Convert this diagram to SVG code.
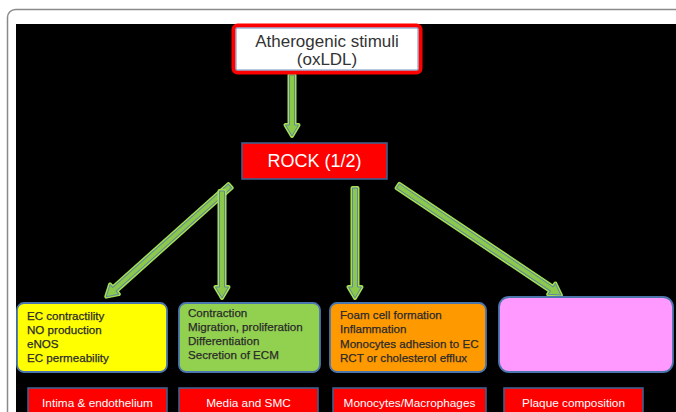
<svg xmlns="http://www.w3.org/2000/svg" xmlns:xlink="http://www.w3.org/1999/xlink" width="676" height="412" viewBox="0 0 676 412">
<style>
.glow{fill:none;stroke:#a6e04e;stroke-width:4;stroke-linejoin:round}
.arw{fill:#8cc84b;stroke:#5f87a0;stroke-width:1;stroke-linejoin:round}
.box{stroke:#4a76ad;stroke-width:1.8}
.txt{font-family:"Liberation Sans",Arial,sans-serif;font-size:11.6px;fill:#2a2a2a;stroke:#2a2a2a;stroke-width:0.25}
.lab{font-family:"Liberation Sans",Arial,sans-serif;font-size:11.8px;fill:#ffffff;text-anchor:middle}
.red{fill:#ff0000;stroke:#3f5f8c;stroke-width:1.6}
</style>
<defs>
<path id="a61" d="M0,-2.5 L50,-2.5 L50,-6.5 L61,0 L50,6.5 L50,2.5 L0,2.5 Z"/>
<path id="a107" d="M0,-2.5 L96,-2.5 L96,-6.5 L107,0 L96,6.5 L96,2.5 L0,2.5 Z"/>
<path id="a110" d="M0,-2.5 L99,-2.5 L99,-6.5 L110,0 L99,6.5 L99,2.5 L0,2.5 Z"/>
<path id="a166" d="M0,-2.5 L155,-2.5 L155,-6.5 L166,0 L155,6.5 L155,2.5 L0,2.5 Z"/>
<path id="a196" d="M0,-2.5 L185,-2.5 L185,-6.5 L196,0 L185,6.5 L185,2.5 L0,2.5 Z"/>
</defs>
<rect x="7.5" y="9.5" width="700" height="420" rx="8" fill="#ffffff" stroke="#8a8a8a" stroke-width="1.5"/>
<rect x="16" y="24" width="660" height="388" fill="#000000"/>
<g id="connectors">
<use xlink:href="#a61" class="glow" transform="translate(292,75) rotate(90)"/>
<use xlink:href="#a61" class="arw" transform="translate(292,75) rotate(90)"/>
<use xlink:href="#a166" class="glow" transform="translate(230,186) rotate(138.2)"/>
<use xlink:href="#a166" class="arw" transform="translate(230,186) rotate(138.2)"/>
<use xlink:href="#a107" class="glow" transform="translate(222,191) rotate(90)"/>
<use xlink:href="#a107" class="arw" transform="translate(222,191) rotate(90)"/>
<use xlink:href="#a110" class="glow" transform="translate(355,188) rotate(90)"/>
<use xlink:href="#a110" class="arw" transform="translate(355,188) rotate(90)"/>
<use xlink:href="#a196" class="glow" transform="translate(398,186) rotate(33.8)"/>
<use xlink:href="#a196" class="arw" transform="translate(398,186) rotate(33.8)"/>
</g>
<g id="stimuli">
<rect x="233.5" y="25.5" width="187" height="47" rx="4" fill="#ffffff" stroke="#ff0000" stroke-width="4"/>
<rect x="236" y="28" width="182" height="42" fill="none" stroke="#6d8fc0" stroke-width="1"/>
<text x="327" y="47" font-family="'Liberation Sans',Arial,sans-serif" font-size="17" fill="#333333" text-anchor="middle">Atherogenic stimuli</text>
<text x="327" y="65" font-family="'Liberation Sans',Arial,sans-serif" font-size="17" fill="#333333" text-anchor="middle">(oxLDL)</text>
</g>
<g id="rock">
<rect x="242" y="143" width="145" height="36" class="red"/>
<text x="314.5" y="167" font-family="'Liberation Sans',Arial,sans-serif" font-size="18" fill="#ffffff" text-anchor="middle">ROCK (1/2)</text>
</g>
<g id="intima-box">
<rect x="17" y="303" width="150" height="69" rx="7" fill="#ffff00" class="box"/>
<text class="txt" x="27" y="320">EC contractility</text>
<text class="txt" x="27" y="334">NO production</text>
<text class="txt" x="27" y="348">eNOS</text>
<text class="txt" x="27" y="362">EC permeability</text>
</g>
<g id="media-box">
<rect x="179" y="303" width="141" height="69" rx="7" fill="#92d050" class="box"/>
<text class="txt" x="188" y="317">Contraction</text>
<text class="txt" x="188" y="331">Migration, proliferation</text>
<text class="txt" x="188" y="345">Differentiation</text>
<text class="txt" x="188" y="359">Secretion of ECM</text>
</g>
<g id="mono-box">
<rect x="330" y="303" width="156" height="69" rx="7" fill="#ff9900" class="box"/>
<text class="txt" x="340" y="319">Foam cell formation</text>
<text class="txt" x="340" y="333">Inflammation</text>
<text class="txt" x="340" y="347.5">Monocytes adhesion to EC</text>
<text class="txt" x="340" y="362">RCT or cholesterol efflux</text>
</g>
<g id="plaque-box">
<rect x="499" y="297" width="174" height="75" rx="10" fill="#ff99ff" class="box"/>
</g>
<g id="intima-label">
<rect x="28" y="388" width="139" height="30" class="red"/>
<text class="lab" x="97.5" y="407">Intima &amp; endothelium</text>
</g>
<g id="media-label">
<rect x="179" y="388" width="139" height="30" class="red"/>
<text class="lab" x="248.5" y="407">Media and SMC</text>
</g>
<g id="mono-label">
<rect x="333" y="388" width="153" height="30" class="red"/>
<text class="lab" x="409.5" y="407">Monocytes/Macrophages</text>
</g>
<g id="plaque-label">
<rect x="504" y="388" width="139" height="30" class="red"/>
<text class="lab" x="573.5" y="407">Plaque composition</text>
</g>
</svg>
